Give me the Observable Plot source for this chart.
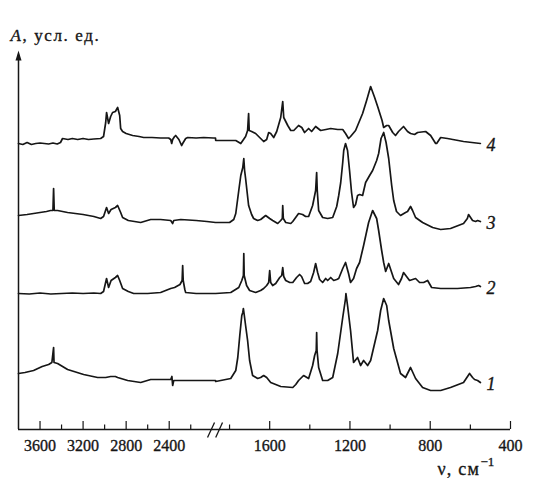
<!DOCTYPE html>
<html><head><meta charset="utf-8">
<script src="https://cdn.jsdelivr.net/npm/d3@7"></script>
<script src="https://cdn.jsdelivr.net/npm/@observablehq/plot@0.6"></script>
<style>body{margin:0;background:#fff}</style>
</head><body><div id="chart"></div>
<script>
// wavenumber (cm^-1), absorbance (arb. units, curves offset)
const spectrum1 = [[3800,0.56],[3740,0.57],[3660,0.59],[3580,0.63],[3520,0.65],[3490,0.67],[3474,0.82],[3470,0.67],[3437,0.66],[3344,0.60],[3195,0.55],[3065,0.52],[2990,0.52],[2944,0.53],[2900,0.53],[2879,0.52],[2786,0.49],[2665,0.47],[2572,0.50],[2480,0.50],[2386,0.50],[2375,0.53],[2368,0.44],[2358,0.49],[2293,0.49],[2150,0.49],[1970,0.49],
[1869,0.48],[1794,0.51],[1769,0.59],[1759,0.72],[1749,0.94],[1739,1.14],[1734,1.17],[1731,1.21],[1727,1.15],[1720,1.04],[1710,0.89],[1700,0.69],[1685,0.54],[1660,0.51],[1645,0.52],[1630,0.54],[1615,0.52],[1595,0.47],[1545,0.43],[1485,0.42],[1470,0.45],[1456,0.49],[1431,0.54],[1406,0.51],[1386,0.64],[1376,0.74],[1368,0.79],[1366,0.97],[1364,0.79],[1356,0.62],[1336,0.49],[1311,0.49],[1286,0.52],[1261,0.76],[1236,1.12],[1222,1.31],[1220,1.36],[1212,1.24],[1197,0.99],[1182,0.67],[1162,0.72],[1147,0.64],[1132,0.69],[1112,0.64],[1097,0.69],[1062,0.99],[1047,1.19],[1032,1.31],[1017,1.24],[1007,1.09],[982,0.81],[948,0.56],[923,0.52],[898,0.62],[873,0.51],[838,0.42],[798,0.39],[748,0.39],[699,0.42],[634,0.47],[604,0.56],[589,0.52],[579,0.50],[564,0.49],[550,0.47]];

const spectrum2 = [[3800,1.36],[3700,1.355],[3600,1.365],[3500,1.355],[3400,1.36],[3300,1.365],[3200,1.36],[3100,1.365],[3037,1.36],[3010,1.38],[2982,1.51],[2963,1.42],[2940,1.49],[2900,1.52],[2879,1.54],[2860,1.49],[2833,1.41],[2780,1.38],[2730,1.36],[2600,1.36],[2480,1.37],[2386,1.41],[2350,1.42],[2300,1.45],[2280,1.49],[2275,1.64],[2270,1.49],[2255,1.40],[2247,1.37],[2150,1.36],[2050,1.36],[1970,1.36],
[1869,1.36],[1794,1.37],[1754,1.42],[1739,1.49],[1731,1.54],[1729,1.76],[1727,1.54],[1715,1.44],[1700,1.39],[1670,1.37],[1645,1.39],[1630,1.41],[1615,1.44],[1605,1.47],[1600,1.59],[1595,1.47],[1585,1.44],[1570,1.46],[1550,1.52],[1540,1.54],[1535,1.62],[1530,1.53],[1520,1.49],[1500,1.47],[1485,1.47],[1466,1.52],[1451,1.55],[1441,1.53],[1426,1.46],[1411,1.46],[1396,1.48],[1381,1.57],[1371,1.66],[1361,1.57],[1351,1.50],[1336,1.47],[1321,1.51],[1311,1.49],[1296,1.52],[1281,1.49],[1266,1.50],[1256,1.51],[1236,1.61],[1222,1.67],[1207,1.56],[1197,1.47],[1182,1.51],[1167,1.61],[1152,1.67],[1132,1.84],[1107,2.07],[1087,2.19],[1067,2.11],[1057,1.99],[1042,1.79],[1032,1.67],[1022,1.58],[1007,1.66],[992,1.57],[982,1.51],[958,1.45],[943,1.51],[933,1.57],[918,1.53],[903,1.49],[888,1.50],[873,1.51],[853,1.47],[833,1.47],[813,1.49],[793,1.42],[748,1.41],[664,1.41],[599,1.42],[574,1.43],[559,1.44],[550,1.43]];

const spectrum3 = [[3800,2.14],[3720,2.15],[3660,2.16],[3600,2.17],[3540,2.18],[3502,2.19],[3480,2.19],[3474,2.41],[3468,2.19],[3437,2.19],[3344,2.17],[3200,2.15],[3100,2.13],[3037,2.11],[3010,2.13],[2982,2.22],[2963,2.16],[2940,2.20],[2900,2.22],[2879,2.24],[2851,2.17],[2833,2.12],[2780,2.09],[2665,2.07],[2572,2.10],[2480,2.10],[2386,2.09],[2368,2.06],[2358,2.09],[2293,2.10],[2150,2.09],[2050,2.08],[1970,2.07],
[1869,2.07],[1800,2.07],[1779,2.10],[1769,2.16],[1754,2.39],[1744,2.54],[1734,2.62],[1729,2.71],[1725,2.59],[1720,2.51],[1705,2.24],[1690,2.15],[1680,2.11],[1660,2.09],[1645,2.10],[1620,2.14],[1600,2.11],[1585,2.09],[1560,2.06],[1545,2.09],[1537,2.11],[1535,2.24],[1532,2.11],[1520,2.07],[1495,2.06],[1485,2.08],[1456,2.16],[1436,2.15],[1421,2.13],[1406,2.13],[1386,2.24],[1371,2.39],[1366,2.57],[1363,2.39],[1356,2.19],[1336,2.12],[1311,2.11],[1286,2.12],[1266,2.23],[1256,2.34],[1246,2.47],[1236,2.67],[1231,2.79],[1222,2.86],[1212,2.79],[1202,2.59],[1192,2.37],[1182,2.22],[1172,2.25],[1162,2.34],[1152,2.35],[1137,2.34],[1122,2.47],[1102,2.54],[1087,2.59],[1067,2.69],[1057,2.76],[1045,2.91],[1032,2.97],[1020,2.87],[1007,2.71],[992,2.44],[982,2.29],[968,2.18],[948,2.14],[923,2.17],[913,2.18],[898,2.23],[888,2.19],[873,2.12],[838,2.07],[788,2.02],[748,2.00],[699,2.01],[634,2.06],[615,2.11],[609,2.15],[599,2.12],[589,2.09],[574,2.08],[564,2.09],[550,2.08]];

const spectrum4 = [[3800,2.86],[3760,2.85],[3720,2.87],[3680,2.85],[3640,2.86],[3600,2.865],[3560,2.86],[3520,2.855],[3480,2.865],[3440,2.855],[3410,2.87],[3391,2.91],[3340,2.90],[3300,2.91],[3250,2.90],[3200,2.91],[3150,2.90],[3100,2.905],[3037,2.91],[3010,2.93],[2990,3.07],[2982,3.17],[2963,3.06],[2944,3.13],[2926,3.17],[2900,3.18],[2879,3.22],[2860,3.14],[2851,3.01],[2833,2.98],[2800,2.96],[2740,2.94],[2680,2.93],[2637,2.92],[2560,2.92],[2480,2.915],[2405,2.915],[2386,2.90],[2377,2.86],[2368,2.90],[2350,2.93],[2340,2.94],[2310,2.90],[2285,2.84],[2275,2.86],[2247,2.91],[2228,2.92],[2150,2.915],[2080,2.92],[1990,2.915],[1970,2.915],
[1869,2.89],[1820,2.89],[1769,2.89],[1744,2.86],[1720,2.93],[1710,2.99],[1705,3.16],[1702,2.99],[1690,2.98],[1670,2.96],[1650,2.92],[1630,2.88],[1615,2.90],[1605,2.97],[1595,2.96],[1580,2.92],[1565,2.98],[1545,3.12],[1535,3.28],[1530,3.12],[1510,3.04],[1495,2.99],[1480,2.99],[1456,3.04],[1440,3.02],[1426,2.97],[1406,3.01],[1391,2.98],[1371,3.03],[1346,2.99],[1320,3.00],[1296,3.01],[1261,3.00],[1236,3.00],[1222,2.96],[1207,2.91],[1197,2.93],[1172,2.99],[1137,3.16],[1117,3.29],[1097,3.43],[1077,3.32],[1062,3.23],[1040,3.09],[1032,3.02],[1017,3.04],[1007,3.04],[987,2.97],[973,2.94],[958,2.98],[933,3.03],[913,2.98],[898,2.96],[878,2.95],[863,2.97],[823,2.98],[798,2.94],[773,2.86],[768,2.86],[748,2.92],[714,2.91],[634,2.88],[550,2.86]];

const seriesNames = ["1", "2", "3", "4"];
const majorTicks = [3600, 3200, 2800, 2400, 1600, 1200, 800, 400];
const minorTicks = [3400, 3000, 2600, 2200, 1800, 1400, 1000, 600];
const xDomain = [3800, 1970, 1870, 400];   // broken axis: 1970 … 1870 removed
const breakMarks = [{x1: 2044, x2: 1979}, {x1: 1869, x2: 1835}];
const yLabel = ", усл. ед.";
const xLabel = "ν, см";

const spectra = [spectrum1, spectrum2, spectrum3, spectrum4];
const rows = spectra.flatMap((s, i) => s.map(([wn, a]) => ({name: seriesNames[i], wn, a})));
const ends = spectra.map((s, i) => ({name: seriesNames[i], wn: s[s.length - 1][0], a: s[s.length - 1][1]}));

const ink = "#161616";
const font = "'Liberation Serif', 'DejaVu Serif', serif";
const upArrow = {draw(ctx) { ctx.moveTo(0, -10); ctx.lineTo(3, 0); ctx.lineTo(-3, 0); ctx.closePath(); }};
const txt = (o) => ({fill: ink, stroke: ink, strokeWidth: 0.35, fontFamily: font, ...o});

const chart = Plot.plot({
  width: 547, height: 499,
  marginLeft: 18, marginRight: 37, marginTop: 48, marginBottom: 70,
  style: {background: "white", color: ink, fontFamily: font},
  x: {type: "linear", domain: xDomain, range: [18, 215, 215, 510], axis: null},
  y: {domain: [0, 3.81], range: [429, 48], axis: null},
  marks: [
    // axes
    Plot.ruleY([0], {x1: xDomain[0], x2: xDomain[3], stroke: ink, strokeWidth: 1.5}),
    Plot.ruleX([xDomain[0]], {y1: 0, y2: 3.72, stroke: ink, strokeWidth: 1.5}),
    Plot.dot([xDomain[0]], {x: d => d, y: 3.69, symbol: upArrow, fill: ink, stroke: "none"}),
    Plot.ruleX(majorTicks, {y1: 0, y2: 0.08, stroke: ink, strokeWidth: 1.2}),
    Plot.ruleX(minorTicks, {y1: 0, y2: 0.045, stroke: ink, strokeWidth: 1.2}),
    Plot.link(breakMarks, {x1: "x1", x2: "x2", y1: -0.08, y2: 0.07, stroke: ink, strokeWidth: 1.3}),
    Plot.text(majorTicks, txt({x: d => d, y: 0, dy: 21, lineAnchor: "bottom", text: d => String(d), fontSize: 16})),
    // spectra
    Plot.line(rows, {x: "wn", y: "a", z: "name", stroke: ink, strokeWidth: 1.7, strokeLinejoin: "round"}),
    Plot.text(ends, txt({x: "wn", y: "a", text: "name", dx: 6, dy: 2, textAnchor: "start", fontSize: 18, fontStyle: "italic"})),
    // axis titles
    Plot.text(["A"], txt({x: xDomain[0], y: 3.81, dx: -8, dy: -8, lineAnchor: "bottom", textAnchor: "start", fontSize: 17, fontStyle: "italic"})),
    Plot.text([yLabel], txt({x: xDomain[0], y: 3.81, dx: 4, dy: -8, lineAnchor: "bottom", textAnchor: "start", fontSize: 17})),
    Plot.text([xLabel], txt({x: xDomain[3], y: 0, dx: -73, dy: 45, lineAnchor: "bottom", textAnchor: "start", fontSize: 18})),
    Plot.text(["−1"], txt({x: xDomain[3], y: 0, dx: -30, dy: 36, lineAnchor: "bottom", textAnchor: "start", fontSize: 13}))
  ]
});

d3.select(chart).selectAll("text").each(function() {
  const t = this.textContent;
  if (t === yLabel) this.setAttribute("letter-spacing", "1.6px");
  if (t === xLabel) this.setAttribute("letter-spacing", "1.2px");
});
document.getElementById("chart").appendChild(chart);
</script>
</body></html>
